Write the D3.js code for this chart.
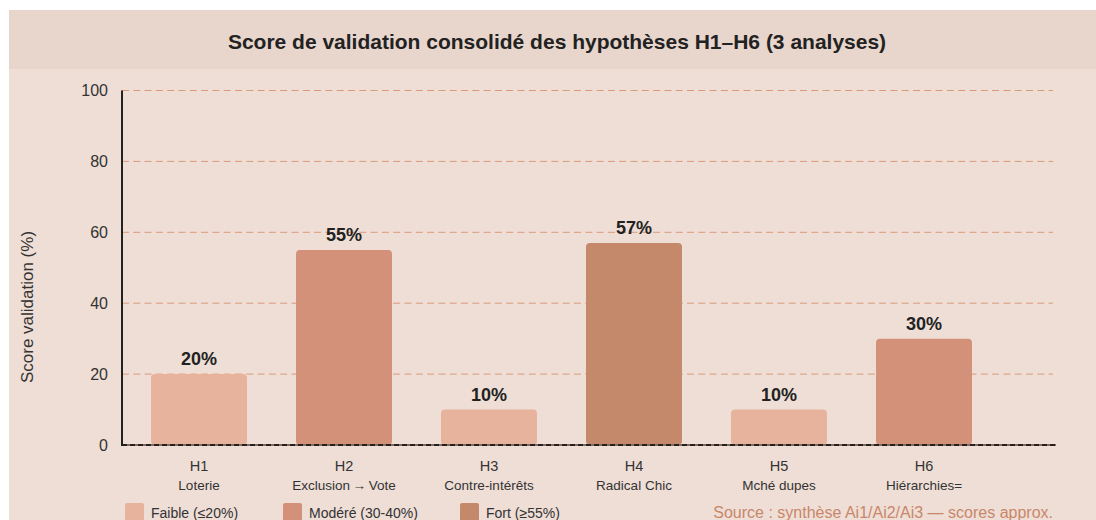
<!DOCTYPE html>
<html><head><meta charset="utf-8">
<script src="https://cdn.jsdelivr.net/npm/d3@7"></script>
<style>body{margin:0;background:#fff;}svg{display:block;font-family:"Liberation Sans",Arial,sans-serif;}</style>
</head><body>
<script>
const codes = ["H1","H2","H3","H4","H5","H6"];
const names = ["Loterie","Exclusion\u2009\u2192\u2009Vote","Contre-intérêts","Radical Chic","Mché dupes","Hiérarchies="];
const scores = [20,55,10,57,10,30];
const levels = ["Faible","Modéré","Faible","Fort","Faible","Modéré"];
const yTicks = [0,20,40,60,80,100];
const legendLabels = ["Faible (≤20%)","Modéré (30-40%)","Fort (≥55%)"];
const legendKeys = ["Faible","Modéré","Fort"];
const title = "Score de validation consolidé des hypothèses H1–H6 (3 analyses)";
const yTitle = "Score validation (%)";
const source = "Source : synthèse Ai1/Ai2/Ai3 — scores approx.";

const W=1096,H=520;
const svg=d3.select("body").append("svg").attr("width",W).attr("height",H);
svg.append("rect").attr("x",9).attr("y",10).attr("width",W-9).attr("height",H-10).attr("fill","#efded6");
svg.append("rect").attr("x",9).attr("y",10).attr("width",W-9).attr("height",59).attr("fill","#e8d5cc");
svg.append("text").attr("x",557).attr("y",48.5).attr("text-anchor","middle").attr("font-size",21).attr("font-weight","bold").attr("fill","#222").text(title);

const color=d3.scaleOrdinal().domain(legendKeys).range(["#e8b39d","#d4917a","#c4896b"]);
const y=d3.scaleLinear().domain([0,100]).range([445,90.5]);
const x=d3.scaleBand().domain(codes).range([126.5,996.5]).paddingInner(0.338).paddingOuter(0.169);
const xL=122, xR=1056;

// grid
svg.append("g").selectAll("line").data(yTicks.filter(d=>d>0)).join("line")
 .attr("x1",xL).attr("x2",1053).attr("y1",d=>y(d)).attr("y2",d=>y(d))
 .attr("stroke","#d99a7a").attr("stroke-width",1).attr("stroke-dasharray","7,4.3");

// y axis
const ya=svg.append("g").attr("transform",`translate(${xL},0)`).call(d3.axisLeft(y).tickValues(yTicks).tickSize(0).tickPadding(14));
ya.select(".domain").remove();
ya.selectAll("text").attr("font-size",16).attr("fill","#333").attr("font-family","Liberation Sans, Arial, sans-serif");
svg.append("line").attr("x1",xL).attr("x2",xL).attr("y1",y(100)).attr("y2",y(0)+1).attr("stroke","#222").attr("stroke-width",2);

svg.append("text").attr("transform",`translate(33,307) rotate(-90)`).attr("text-anchor","middle")
 .attr("font-size",17).attr("fill","#333").text(yTitle);

// bars
svg.append("g").selectAll("rect").data(codes).join("rect")
 .attr("x",d=>x(d)).attr("width",x.bandwidth())
 .attr("y",(d,i)=>y(scores[i])).attr("height",(d,i)=>y(0)-y(scores[i]))
 .attr("rx",4).attr("fill",(d,i)=>color(levels[i]));

svg.append("g").selectAll("text").data(codes).join("text")
 .attr("x",d=>x(d)+x.bandwidth()/2).attr("y",(d,i)=>y(scores[i])-9)
 .attr("text-anchor","middle").attr("font-size",18).attr("font-weight","bold").attr("fill","#222")
 .text((d,i)=>scores[i]+"%");

// baseline
svg.append("line").attr("x1",xL).attr("x2",xR).attr("y1",y(0)).attr("y2",y(0)).attr("stroke","#8a6a5a").attr("stroke-width",2);
svg.append("line").attr("x1",xL).attr("x2",xR).attr("y1",y(0)).attr("y2",y(0)).attr("stroke","#222").attr("stroke-width",2).attr("stroke-dasharray","5,3");

// x labels
const xa=svg.append("g").attr("transform",`translate(0,${y(0)})`).call(d3.axisBottom(x).tickSize(0).tickFormat(()=>""));
xa.select(".domain").remove();
const lab=svg.append("g").selectAll("g").data(codes).join("g").attr("transform",d=>`translate(${x(d)+x.bandwidth()/2},0)`);
lab.append("text").attr("y",471).attr("text-anchor","middle").attr("font-size",14.5).attr("fill","#333").text(d=>d);
lab.append("text").attr("y",490).attr("text-anchor","middle").attr("font-size",13.5).attr("fill","#333").text((d,i)=>names[i]);

// legend
const legX=[125,283,460];
const lg=svg.append("g").selectAll("g").data(legendKeys).join("g").attr("transform",(d,i)=>`translate(${legX[i]},503)`);
lg.append("rect").attr("width",19).attr("height",19).attr("rx",2).attr("fill",d=>color(d));
lg.append("text").attr("x",26).attr("y",15).attr("font-size",14).attr("fill","#333").text((d,i)=>legendLabels[i]);

svg.append("text").attr("x",1053).attr("y",518).attr("text-anchor","end").attr("font-size",16).attr("fill","#c8876a").text(source);
</script>
</body></html>
